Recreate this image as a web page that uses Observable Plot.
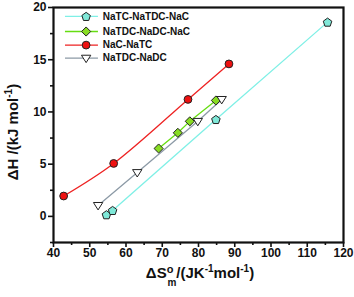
<!DOCTYPE html>
<html><head><meta charset="utf-8">
<script src="https://cdn.jsdelivr.net/npm/d3@7"></script>
<script src="https://cdn.jsdelivr.net/npm/@observablehq/plot@0.6"></script>
<style>body{margin:0;background:#fff} #chart svg{display:block} #chart svg text{font-weight:bold}</style>
</head><body><div id="chart"></div>
<script>
// ---- data ----
const seriesNames = ["NaTC-NaTDC-NaC", "NaTDC-NaDC-NaC", "NaC-NaTC", "NaTDC-NaDC"];
const cyanX  = [54.6, 56.3, 84.8, 115.6];
const cyanY  = [0.16, 0.57, 9.28, 18.6];
const greenX = [69.0, 74.3, 77.6, 84.8];
const greenY = [6.5, 8.0, 9.1, 11.1];
const redX   = [42.8, 56.6, 77.1, 88.4];
const redY   = [1.95, 5.07, 11.2, 14.6];
const grayX  = [52.3, 63.1, 79.8, 86.4];
const grayY  = [1.05, 4.2, 9.1, 11.2];
const xTicks = [40, 50, 60, 70, 80, 90, 100, 110, 120];
const xMinor = [45, 55, 65, 75, 85, 95, 105, 115];
const yTicks = [0, 5, 10, 15, 20];
const yMinor = [-2.5, 2.5, 7.5, 12.5, 17.5];

// ---- custom symbols (radius derived from Plot's r: size = PI r^2) ----
const rad = size => Math.sqrt(size / Math.PI);
const pentagon = {draw(ctx, size) {
  const r = rad(size) * 1.15;
  for (let i = 0; i < 5; i++) {
    const a = -Math.PI / 2 + i * 2 * Math.PI / 5;
    const px = r * Math.cos(a), py = r * Math.sin(a) + r * 0.1;
    if (i === 0) ctx.moveTo(px, py); else ctx.lineTo(px, py);
  }
  ctx.closePath();
}};
const triDown = {draw(ctx, size) {
  const r = rad(size);
  ctx.moveTo(-r * 1.2, -r * 0.75);
  ctx.lineTo(r * 1.2, -r * 0.75);
  ctx.lineTo(0, r * 1.15);
  ctx.closePath();
}};
const diamond = {draw(ctx, size) {
  const r = rad(size) * 1.2;
  ctx.moveTo(0, -r); ctx.lineTo(r, 0); ctx.lineTo(0, r); ctx.lineTo(-r, 0); ctx.closePath();
}};

const styles = [
  {xs: cyanX,  ys: cyanY,  line: "#7ff0e6", fill: "#7fe8d8", symbol: pentagon, curve: "linear", r: 3.9},
  {xs: greenX, ys: greenY, line: "#66dd11", fill: "#88dd22", symbol: diamond,  curve: "linear", r: 3.8},
  {xs: redX,   ys: redY,   line: "#ee2222", fill: "#ee1111", symbol: "circle", curve: "catmull-rom", r: 3.9},
  {xs: grayX,  ys: grayY,  line: "#8c9aa6", fill: "#ffffff", symbol: triDown,  curve: "linear", r: 3.9}
];

const marks = [];
styles.forEach((s) => {
  const pts = s.xs.map((x, j) => ({x, y: s.ys[j]}));
  marks.push(Plot.line(pts, {x: "x", y: "y", stroke: s.line, strokeWidth: 1.3, curve: s.curve}));
});
styles.forEach((s) => {
  const pts = s.xs.map((x, j) => ({x, y: s.ys[j]}));
  marks.push(Plot.dot(pts, {x: "x", y: "y", symbol: s.symbol, r: s.r, fill: s.fill, stroke: "#222", strokeWidth: 1}));
});

// legend (positioned in data space near top-left of the frame)
const legY = [19.15, 17.7, 16.4, 15.15];
styles.forEach((s, i) => {
  marks.push(Plot.ruleY([legY[i]], {x1: 43.3, x2: 52.4, stroke: s.line, strokeWidth: 1.3}));
  marks.push(Plot.dot([{x: 49.0, y: legY[i]}], {x: "x", y: "y", symbol: s.symbol, r: s.r, fill: s.fill, stroke: "#222", strokeWidth: 1}));
  marks.push(Plot.text([seriesNames[i]], {x: 53.6, y: legY[i], text: d => d, textAnchor: "start", fontSize: 10, fontWeight: "bold", fill: "#111"}));
});

const chart = Plot.plot({
  width: 354, height: 297,
  marginLeft: 53, marginRight: 11, marginTop: 7, marginBottom: 55,
  style: {fontFamily: "'Liberation Sans', Arial, sans-serif", fontWeight: "bold", fontSize: "12px", background: "#fff", color: "#111"},
  x: {domain: [40, 120]},
  y: {domain: [-2.5, 20]},
  marks: [
    Plot.axisX({ticks: xTicks, tickSize: 5, tickPadding: 1, strokeWidth: 1.6, label: null, fontSize: 12, fontWeight: "bold"}),
    Plot.axisX({ticks: xMinor, tickSize: 3, strokeWidth: 1.6, text: null, label: null}),
    Plot.axisY({ticks: yTicks, tickSize: 5, tickPadding: 2, strokeWidth: 1.6, label: null, fontSize: 12, fontWeight: "bold"}),
    Plot.axisY({ticks: yMinor, tickSize: 3, strokeWidth: 1.6, text: null, label: null}),
    ...marks,
    Plot.frame({stroke: "#111", strokeWidth: 2.2})
  ]
});
document.getElementById("chart").append(chart);

const svg = d3.select(chart);
// y axis label
const yl = svg.append("text")
  .attr("transform", "translate(18,132) rotate(-90)")
  .attr("text-anchor", "middle")
  .attr("font-size", 15).attr("font-weight", "bold").attr("fill", "#111")
  .attr("font-family", "'Liberation Sans', Arial, sans-serif");
yl.append("tspan").text("ΔH /(kJ mol");
yl.append("tspan").attr("font-size", 10).attr("dy", -6).text("-1");
yl.append("tspan").attr("dy", 6).text(")");

// x axis label
const xl = svg.append("text")
  .attr("x", 200).attr("y", 278)
  .attr("text-anchor", "middle")
  .attr("font-size", 15).attr("font-weight", "bold").attr("fill", "#111")
  .attr("font-family", "'Liberation Sans', Arial, sans-serif");
xl.append("tspan").text("ΔS");
xl.append("tspan").attr("font-size", 11).attr("dy", -5).text("o");
xl.append("tspan").attr("font-size", 10).attr("dx", -6).attr("dy", 13).text("m");
xl.append("tspan").attr("dy", -8).text("/(JK");
xl.append("tspan").attr("font-size", 10).attr("dy", -6).text("-1");
xl.append("tspan").attr("dy", 6).text("mol");
xl.append("tspan").attr("font-size", 10).attr("dy", -6).text("-1");
xl.append("tspan").attr("dy", 6).text(")");
</script>
</body></html>
